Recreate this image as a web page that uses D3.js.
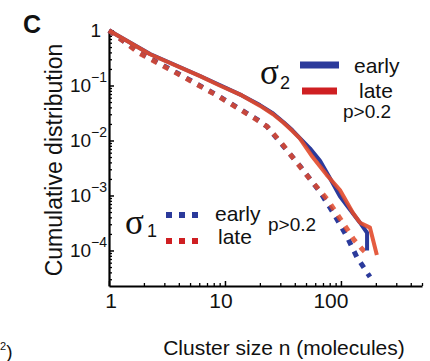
<!DOCTYPE html>
<html>
<head>
<meta charset="utf-8">
<script src="https://cdn.jsdelivr.net/npm/d3@7"></script>
<style>
  body { margin: 0; background: #fff; }
  text { font-family: "Liberation Sans", Arial, sans-serif; fill: #111; }
</style>
</head>
<body>
<script>
// cumulative distributions, [cluster size, fraction]
const earlySigma2 = [[1, 1], [2.26, 0.374], [6.1, 0.149], [9, 0.102], [14, 0.066], [20, 0.044], [26, 0.031],
  [32, 0.0215], [38, 0.0155], [44, 0.0112], [54, 0.0072], [66, 0.0043], [80, 0.0021], [98, 0.00097],
  [120, 0.00055], [146, 0.00032], [168, 0.00021], [168, 0.0001]];
const lateSigma2 = [[1, 1], [2.26, 0.37], [6.1, 0.148], [9, 0.1], [14, 0.066], [20, 0.043], [26, 0.03],
  [32, 0.021], [38, 0.015], [44, 0.011], [57, 0.005], [75, 0.0024], [98, 0.00126], [127, 0.00048],
  [146, 0.00032], [178, 0.00026], [204, 0.000083]];
const earlySigma1 = [[1, 1], [1.85, 0.39], [3.86, 0.169], [8.5, 0.067], [19, 0.024], [23, 0.018], [31, 0.0085],
  [44, 0.0035], [66, 0.00116], [85, 0.0005], [113, 0.000176], [137, 0.000076], [178, 0.000033]];
const lateSigma1 = [[1, 1], [1.85, 0.38], [3.86, 0.166], [8.5, 0.066], [19, 0.0235], [23, 0.018], [31, 0.0088],
  [40, 0.0044], [55, 0.0019], [77, 0.00083], [100, 0.00036], [130, 0.000155], [150, 0.00011], [171, 0.000083]];

const xTickLabels = [1, 10, 100];
const yTickExps = [0, -1, -2, -3, -4];

const blue = "#2b3a9b";
const red = "#cf1f22";
const orange = "#e24a2b";

const width = 430, height = 361;

const svg = d3.select("body").append("svg")
    .attr("width", width)
    .attr("height", height);

const xScale = d3.scaleLog().domain([1, 500]).range([109, 422]);
const yScale = d3.scaleLog().domain([2.26e-5, 1]).range([286, 30.5]);

// minor tick positions 2..9 of each decade
const xMinor = [];
[1, 10, 100].forEach(d => d3.range(2, 10).forEach(k => { if (k * d <= 500) xMinor.push(k * d); }));
const yMinor = [];
[1e-5, 1e-4, 1e-3, 1e-2, 1e-1].forEach(d => d3.range(2, 10).forEach(k => { if (k * d >= 2.26e-5) yMinor.push(k * d); }));

svg.append("g")
    .attr("transform", "translate(0,286)")
    .call(d3.axisBottom(xScale).tickValues(xMinor).tickSizeInner(-3).tickSizeOuter(0).tickFormat(""))
    .call(g => g.select(".domain").attr("stroke-width", 2.2))
    .call(g => g.selectAll(".tick line").attr("stroke-width", 1.3));
svg.append("g")
    .attr("transform", "translate(0,286)")
    .call(d3.axisBottom(xScale).tickValues(xTickLabels).tickSizeInner(-5).tickSizeOuter(0).tickFormat(""))
    .call(g => g.select(".domain").remove())
    .call(g => g.selectAll(".tick line").attr("stroke-width", 1.5));

svg.append("g")
    .attr("transform", "translate(109,0)")
    .call(d3.axisLeft(yScale).tickValues(yMinor).tickSizeInner(-3).tickSizeOuter(0).tickFormat(""))
    .call(g => g.select(".domain").attr("stroke-width", 2.2))
    .call(g => g.selectAll(".tick line").attr("stroke-width", 1.3));
svg.append("g")
    .attr("transform", "translate(109,0)")
    .call(d3.axisLeft(yScale).tickValues(yTickExps.map(e => Math.pow(10, e))).tickSizeInner(-5).tickSizeOuter(0).tickFormat(""))
    .call(g => g.select(".domain").remove())
    .call(g => g.selectAll(".tick line").attr("stroke-width", 1.5));

// tick labels (the original figure sets them a little left of the ticks)
svg.append("g").selectAll("text")
    .data(xTickLabels)
    .join("text")
    .attr("x", d => xScale(d) + 2 - 6 * Math.log10(d))
    .attr("y", 308)
    .attr("text-anchor", "middle")
    .style("font-size", "21px")
    .text(d => d);

const yLabels = svg.append("g").selectAll("text")
    .data(yTickExps)
    .join("text")
    .attr("x", d => d === 0 ? 101 : 107)
    .attr("y", d => yScale(Math.pow(10, d)) + 6.5)
    .attr("text-anchor", "end")
    .style("font-size", "19px");
yLabels.append("tspan").text(d => d === 0 ? "1" : "10");
yLabels.filter(d => d !== 0).append("tspan")
    .attr("dy", -10)
    .style("font-size", "14px")
    .text(d => "\u2212" + Math.abs(d));

// curves
const line = d3.line().x(d => xScale(d[0])).y(d => yScale(d[1]));

const curves = [
  {data: earlySigma1, color: blue, dash: "6,7", w: 5},
  {data: lateSigma1, color: orange, dash: "6,7", w: 5, op: 0.85},
  {data: earlySigma2, color: blue, dash: null, w: 4},
  {data: lateSigma2, color: orange, dash: null, w: 4, op: 0.9}
];
svg.append("g").selectAll("path")
    .data(curves)
    .join("path")
    .attr("d", d => line(d.data))
    .attr("fill", "none")
    .attr("stroke", d => d.color)
    .attr("stroke-width", d => d.w)
    .attr("stroke-opacity", d => d.op || 1)
    .attr("stroke-dasharray", d => d.dash)
    .attr("stroke-linejoin", "round");

// legend sigma2
svg.append("text").attr("x", 260).attr("y", 84)
    .style("font-family", "'Liberation Serif', serif").style("font-size", "35px").text("\u03c3");
svg.append("text").attr("x", 280).attr("y", 89).style("font-size", "18px").text("2");
svg.append("line").attr("x1", 300).attr("x2", 339).attr("y1", 65).attr("y2", 65)
    .attr("stroke", blue).attr("stroke-width", 7);
svg.append("line").attr("x1", 302).attr("x2", 337).attr("y1", 91).attr("y2", 91)
    .attr("stroke", red).attr("stroke-width", 7);
svg.append("text").attr("x", 354).attr("y", 73).style("font-size", "21px").text("early");
svg.append("text").attr("x", 359).attr("y", 98).style("font-size", "21px").text("late");
svg.append("text").attr("x", 343).attr("y", 118).style("font-size", "19px").text("p>0.2");

// legend sigma1
svg.append("text").attr("x", 125).attr("y", 234)
    .style("font-family", "'Liberation Serif', serif").style("font-size", "35px").text("\u03c3");
svg.append("text").attr("x", 147).attr("y", 237).style("font-size", "18px").text("1");
svg.append("line").attr("x1", 166).attr("x2", 200).attr("y1", 215).attr("y2", 215)
    .attr("stroke", blue).attr("stroke-width", 6).attr("stroke-dasharray", "6,7");
svg.append("line").attr("x1", 166).attr("x2", 200).attr("y1", 241).attr("y2", 241)
    .attr("stroke", red).attr("stroke-width", 6).attr("stroke-dasharray", "6,7");
svg.append("text").attr("x", 215).attr("y", 221).style("font-size", "21px").text("early");
svg.append("text").attr("x", 218).attr("y", 244).style("font-size", "21px").text("late");
svg.append("text").attr("x", 268).attr("y", 231).style("font-size", "19px").text("p>0.2");

// axis titles and panel letter
svg.append("text")
    .attr("transform", "translate(62,160) rotate(-90)")
    .attr("text-anchor", "middle")
    .style("font-size", "23px")
    .text("Cumulative distribution");
svg.append("text")
    .attr("x", 284).attr("y", 355)
    .attr("text-anchor", "middle")
    .style("font-size", "21px")
    .text("Cluster size n (molecules)");
svg.append("text")
    .attr("x", 23).attr("y", 33)
    .style("font-size", "25px").style("font-weight", "bold")
    .text("C");

const frag = svg.append("text").attr("x", 0).attr("y", 358).style("font-size", "19px");
frag.append("tspan").attr("dy", -8).style("font-size", "11px").text("2");
frag.append("tspan").attr("dy", 8).text(")");
</script>
</body>
</html>
